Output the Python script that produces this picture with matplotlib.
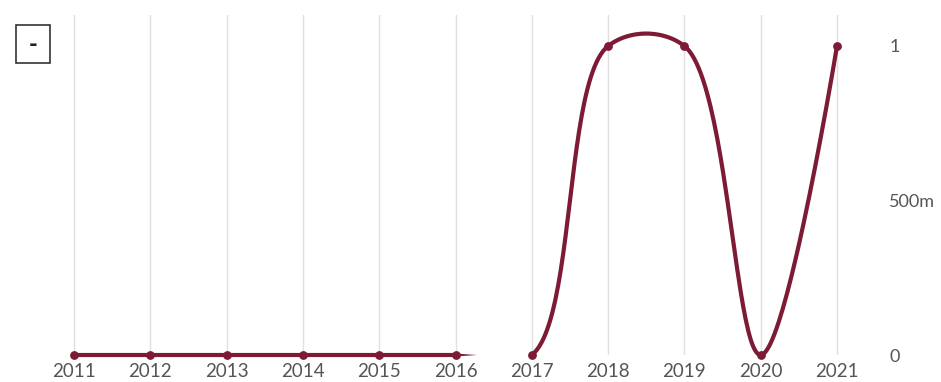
import numpy as np
import matplotlib
matplotlib.use("Agg")
import matplotlib.pyplot as plt
from matplotlib.patches import Rectangle

# datos
years = [2011, 2012, 2013, 2014, 2015, 2016, 2017, 2018, 2019, 2020, 2021]
values = [0, 0, 0, 0, 0, 0, 0, 1, 1, 0, 1]
gap = (2016, 2017)      # tramo sin linea
y_ticks = [0, 0.5, 1]
y_labels = ["0", "500m", "1"]

color = "#7d1a36"
plt.rcParams["font.family"] = ["Lato", "DejaVu Sans"]

ppy = (837 - 74) / 10   # px por año
ppu = 309               # px por unidad


def catmull_rom(xs, ys, alpha=0.5, n=50):
    # curva catmull-rom centripeta (como d3), calculada en pixeles
    P = np.column_stack([np.asarray(xs, float) * ppy, np.asarray(ys, float) * ppu])
    out = [P[:1]]
    for i in range(len(P) - 1):
        p0 = P[i - 1] if i > 0 else P[i]
        p1, p2 = P[i], P[i + 1]
        p3 = P[i + 2] if i + 2 < len(P) else P[i + 1]
        l01 = np.hypot(*(p1 - p0)) ** (2 * alpha)
        l12 = np.hypot(*(p2 - p1)) ** (2 * alpha)
        l23 = np.hypot(*(p3 - p2)) ** (2 * alpha)
        c1, c2 = p1.copy(), p2.copy()
        if l01 > 1e-9:
            a = 2 * l01 + 3 * np.sqrt(l01) * np.sqrt(l12) + l12
            m = 3 * np.sqrt(l01) * (np.sqrt(l01) + np.sqrt(l12))
            c1 = (p1 * a - p0 * l12 + p2 * l01) / m
        if l23 > 1e-9:
            b = 2 * l23 + 3 * np.sqrt(l23) * np.sqrt(l12) + l12
            m = 3 * np.sqrt(l23) * (np.sqrt(l23) + np.sqrt(l12))
            c2 = (p2 * b + p1 * l23 - p3 * l12) / m
        t = np.linspace(0, 1, n)[1:, None]
        seg = (1 - t) ** 3 * p1 + 3 * (1 - t) ** 2 * t * c1 + 3 * (1 - t) * t ** 2 * c2 + t ** 3 * p2
        out.append(seg)
    out = np.vstack(out)
    return out[:, 0] / ppy, out[:, 1] / ppu


fig = plt.figure(figsize=(9.41, 3.82), dpi=100)
ax = fig.add_axes([0, 27 / 382, 870 / 941, 340 / 382])

ax.set_xlim(2011 - 74 / ppy, 2021 + 33 / ppy)
ax.set_ylim(0, 340 / ppu)

for y in years:
    ax.axvline(y, color="#e0e0e0", lw=1, zorder=0)

sx, sy = catmull_rom(years, values)
sy = np.where((sx > gap[0] + 1e-9) & (sx < gap[1] - 1e-9), np.nan, sy)
ax.plot(sx, sy, color=color, lw=3, clip_on=False, zorder=3)

# pequeña punta despues de 2016
tip = gap[0] + 0.28
ax.fill([gap[0], tip, gap[0]], [0.0048, 0, -0.0048], color=color, lw=0, clip_on=False, zorder=3)

ax.scatter(years, values, s=28, color=color, clip_on=False, zorder=4)

ax.set_xticks(years)
ax.set_xticklabels([str(y) for y in years])
ax.yaxis.tick_right()
ax.set_yticks(y_ticks)
ax.set_yticklabels(y_labels)
ax.tick_params(axis="x", length=0, pad=6, labelsize=13.5, labelcolor="#555555")
ax.tick_params(axis="y", length=0, pad=14, labelsize=13, labelcolor="#555555")
for lab in ax.get_yticklabels():
    lab.set_horizontalalignment("left")
for s in ax.spines.values():
    s.set_visible(False)

# cuadro de leyenda
fig.patches.append(Rectangle((16 / 941, 1 - 63 / 382), 34 / 941, 38 / 382, transform=fig.transFigure,
                             fc="white", ec="#333333", lw=1.2))
fig.text(33 / 941, 1 - 44 / 382, "-", ha="center", va="center", fontsize=17, fontweight="black",
         color="#222222")

fig.savefig("out.png", dpi=100)
